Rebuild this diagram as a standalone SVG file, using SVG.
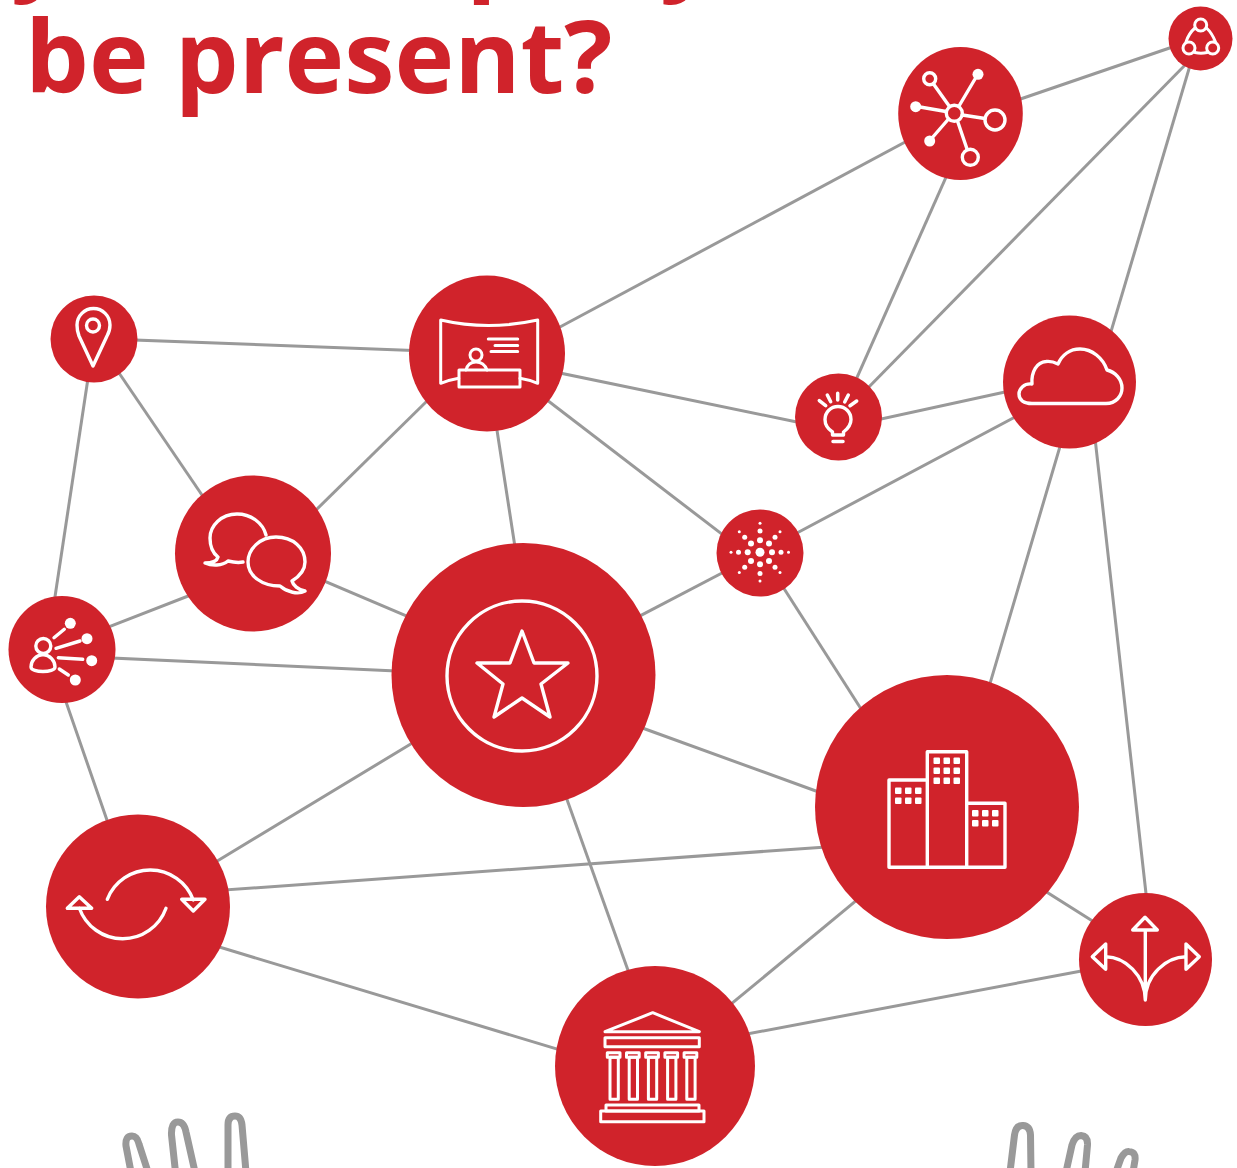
<svg xmlns="http://www.w3.org/2000/svg" width="1237" height="1168" viewBox="0 0 1237 1168">
<style>
.t{font-family:"Open Sans","Noto Sans",sans-serif;font-weight:700;font-size:101px;fill:#D0232B}
.n{fill:#D0232B}
.c line{stroke:#999;stroke-width:3;stroke-linecap:square}
.i{fill:none;stroke:#fff;stroke-width:3.4;stroke-linecap:round;stroke-linejoin:round}
.s{stroke-width:3}
.d{fill:#fff}
.h{fill:none;stroke:#999;stroke-width:7}
</style>
<rect width="1237" height="1168" fill="#fff"/>
<g id="title">
<text class="t" x="25" y="93">be present?</text>
<text class="t" x="11" y="-19.500">y</text>
<text class="t" x="466" y="-19.500">p</text>
<text class="t" x="660" y="-19.500">y</text>
</g>
<g id="connectors" class="c">
<line x1="1019" y1="99.500" x2="1174" y2="46.500"/>
<line x1="908" y1="140.500" x2="558" y2="328"/>
<line x1="947" y1="175" x2="855" y2="382"/>
<line x1="1188" y1="62" x2="866" y2="390"/>
<line x1="1191" y1="62" x2="1110" y2="335"/>
<line x1="135" y1="340" x2="412" y2="350.500"/>
<line x1="560" y1="373" x2="799" y2="422.500"/>
<line x1="879" y1="419.500" x2="1007" y2="391.500"/>
<line x1="429" y1="399" x2="314" y2="512"/>
<line x1="496.500" y1="427" x2="515" y2="547"/>
<line x1="545" y1="398.500" x2="725" y2="536.500"/>
<line x1="1017" y1="416" x2="795" y2="534"/>
<line x1="724" y1="572" x2="638" y2="617"/>
<line x1="783" y1="587" x2="863" y2="712"/>
<line x1="1061" y1="443" x2="989" y2="687"/>
<line x1="1095" y1="438" x2="1146.500" y2="898"/>
<line x1="117" y1="370" x2="204" y2="498"/>
<line x1="88.500" y1="375" x2="54.500" y2="600"/>
<line x1="192" y1="594.500" x2="107" y2="627.500"/>
<line x1="324" y1="581" x2="409" y2="617"/>
<line x1="112" y1="658" x2="395" y2="671"/>
<line x1="65" y1="699" x2="108" y2="823"/>
<line x1="414" y1="742" x2="214" y2="863"/>
<line x1="641" y1="727.500" x2="820" y2="792.500"/>
<line x1="565" y1="794" x2="629" y2="973"/>
<line x1="225" y1="890" x2="825" y2="847"/>
<line x1="216" y1="946" x2="560" y2="1050"/>
<line x1="730" y1="1005" x2="858" y2="899"/>
<line x1="747" y1="1034" x2="1084" y2="970.500"/>
<line x1="1045" y1="891" x2="1094" y2="922"/>
</g>
<g id="hand-left" class="h">
<path d="M131 1172L126 1146Q125 1136 132 1136Q137 1136 139 1144L148 1172"/>
<path d="M175.500 1172L171.500 1135Q171 1122 178 1122Q184 1122 186 1132L195 1172"/>
<path d="M228 1172L228 1125Q228 1116 235 1116Q241 1116 242 1125L246 1172"/>
</g>
<g id="hand-right" class="h">
<path d="M1010 1172L1014.500 1135Q1016 1125 1023 1125.500Q1030 1126 1030.500 1135L1031 1172"/>
<path d="M1066 1172L1072 1145Q1075 1135.500 1081 1135.500Q1088 1136 1087.500 1145L1085 1172"/>
<path d="M1116 1172L1121 1158Q1125 1151 1129 1151.500Q1136 1152 1135 1160L1133 1172"/>
</g>
<g id="network">
<ellipse class="n" cx="960.500" cy="113.500" rx="62.300" ry="66.500"/>
<g class="i">
<circle cx="954.300" cy="113.300" r="8"/><circle cx="929.700" cy="78.700" r="6"/><circle cx="995" cy="120" r="10"/><circle cx="970.300" cy="157.300" r="8"/>
<path d="M933.500 84L949.500 106.500M959 106L975 79M946 111.500L920 107M962.300 115L985 118.500M948.500 119L932 138M957.500 121L967 149"/>
</g>
<circle class="d" cx="978" cy="74.300" r="5.500"/><circle class="d" cx="915.700" cy="106.700" r="5.500"/><circle class="d" cx="929.700" cy="141" r="5.500"/>
</g>
<g id="triad">
<circle class="n" cx="1200.500" cy="38.500" r="32"/>
<g class="i s">
<circle cx="1200.700" cy="25" r="6"/><circle cx="1189" cy="48" r="6"/><circle cx="1212.700" cy="48" r="6"/>
<path d="M1195 28Q1189 33 1186 42M1206.500 28Q1212 33 1215.500 42M1195 52.500Q1201 54 1207 52.500"/>
</g>
</g>
<g id="presenter">
<circle class="n" cx="487" cy="353.500" r="78"/>
<g class="i s">
<path d="M458.700 378.300Q449 380 440.700 383.300L440.700 320Q488 331 537.700 320L537.700 383.300Q530 380 520 378.300"/>
<rect x="459" y="370" width="61" height="17"/>
<circle cx="476" cy="355" r="6"/>
<path d="M466 370Q468 362 476 362Q484 362 487 370M488.300 339L517.700 339M495 345.500L517.700 345.500M491 351.500L517.700 351.500"/>
</g>
</g>
<g id="pin">
<circle class="n" cx="94" cy="339" r="43.500"/>
<g class="i">
<path d="M93 366L79 336Q77 331 77 325A16.500 16.500 0 0 1 110 325Q110 331 107 336Z"/>
<circle cx="93" cy="325.500" r="6.500"/>
</g>
</g>
<g id="bulb">
<circle class="n" cx="838.500" cy="417" r="43.500"/>
<g class="i">
<path d="M832.500 435L832.500 432C828 429 825 425 825 419.500A13 13 0 0 1 851 419.500C851 425 847.500 429 843.500 432L843.500 435Z"/>
<path stroke-width="3.500" d="M833 441.500L843 441.500M837.700 393.300L837.700 400M827.300 395L830.700 401.700M819.300 400.700L825.700 405.700M848.300 395L844.700 402M856.700 401L850 405.700"/>
</g>
</g>
<g id="cloud">
<circle class="n" cx="1069.500" cy="382" r="66.500"/>
<path class="i" d="M1032 403.500L1106 403.500C1116 403.500 1122 396 1122 388C1122 379 1115 372 1107 370C1103 358 1092 349 1080 349C1070 349 1062 355 1058 364C1054 362 1050 361 1046 361.500C1037 362 1031 372 1032 384C1024 383 1019 389 1019 394C1019 400 1024 403.500 1032 403.500Z"/>
</g>
<g id="spark">
<circle class="n" cx="760" cy="553" r="43.500"/>
<g class="d">
<circle cx="760" cy="552.300" r="4.500"/>
<circle cx="747.700" cy="552.300" r="3"/><circle cx="772" cy="552.300" r="3"/><circle cx="760" cy="540.300" r="3"/><circle cx="760" cy="564.300" r="3"/>
<circle cx="751" cy="543.500" r="3"/><circle cx="769" cy="543.500" r="3"/><circle cx="751" cy="561" r="3"/><circle cx="769" cy="561" r="3"/>
<circle cx="738.500" cy="552.300" r="2.500"/><circle cx="781" cy="552.300" r="2.500"/><circle cx="760" cy="531" r="2.500"/><circle cx="760" cy="573.500" r="2.500"/>
<circle cx="744.700" cy="537.300" r="2.500"/><circle cx="775" cy="537.300" r="2.500"/><circle cx="744.700" cy="567.300" r="2.500"/><circle cx="775" cy="567.300" r="2.500"/>
<circle cx="731" cy="552.300" r="1.500"/><circle cx="788.500" cy="552.300" r="1.500"/><circle cx="760" cy="523.300" r="1.500"/><circle cx="760" cy="581" r="1.500"/>
<circle cx="739.300" cy="531.700" r="1.500"/><circle cx="780" cy="531.700" r="1.500"/><circle cx="739.300" cy="572.500" r="1.500"/><circle cx="780" cy="572.500" r="1.500"/>
</g>
</g>
<g id="chat">
<circle class="n" cx="253" cy="553.500" r="78"/>
<g class="i">
<path d="M266 535C263 523 251 514 237 514C221 514 210 526 210 538C210 548 214 554 218 557C217 561 212 563 205 563C212 566 222 566 228 561C232 562 238 563 243 562"/>
<path d="M280 586C287 592 298 595 305 591C298 590 293 585 292 581C300 576 305 570 305 562C305 548 293 537 276 537C260 537 248 549 248 562C248 576 262 586 280 586Z"/>
</g>
</g>
<g id="people">
<circle class="n" cx="62" cy="649.500" r="53.500"/>
<circle class="d" cx="70.300" cy="623.300" r="5.500"/><circle class="d" cx="87" cy="638.700" r="5.500"/><circle class="d" cx="91.700" cy="660.700" r="5.500"/><circle class="d" cx="75.300" cy="680" r="5.500"/>
<g class="i">
<path d="M54 637.700L64.300 629.300M56 648.300L80 641M58.300 657.700L82.700 659.300M59.300 669L68.300 675"/>
<circle cx="43.300" cy="646" r="7.500"/>
<path d="M43 654.500C36 655 31 661 31 667C31 670 37 671.500 43 671.500C49 671.500 55 670 55 667C55 661 50 655 43 654.500Z"/>
</g>
</g>
<g id="star">
<circle class="n" cx="523.500" cy="675" r="132"/>
<g class="i">
<circle cx="522" cy="676" r="75"/>
<path d="M522 631L534 663L568 663L541 684L550 717L522 698L494 717L503 684L477 663L510 663Z"/>
</g>
</g>
<g id="buildings">
<circle class="n" cx="947" cy="807" r="132"/>
<g class="i">
<path d="M927.300 780L889 780L889 867.300L1005 867.300L1005 803.300L966.700 803.300M927.300 867.300L927.300 751.700L966.700 751.700L966.700 867.300"/>
</g>
<g class="d">
<rect x="895" y="787.500" width="6.500" height="6.500" rx="1"/><rect x="905" y="787.500" width="6.500" height="6.500" rx="1"/><rect x="915" y="787.500" width="6.500" height="6.500" rx="1"/>
<rect x="895" y="797.500" width="6.500" height="6.500" rx="1"/><rect x="905" y="797.500" width="6.500" height="6.500" rx="1"/><rect x="915" y="797.500" width="6.500" height="6.500" rx="1"/>
<rect x="933.500" y="757.500" width="6.500" height="6.500" rx="1"/><rect x="943.500" y="757.500" width="6.500" height="6.500" rx="1"/><rect x="953.500" y="757.500" width="6.500" height="6.500" rx="1"/>
<rect x="933.500" y="767.500" width="6.500" height="6.500" rx="1"/><rect x="943.500" y="767.500" width="6.500" height="6.500" rx="1"/><rect x="953.500" y="767.500" width="6.500" height="6.500" rx="1"/>
<rect x="933.500" y="777.500" width="6.500" height="6.500" rx="1"/><rect x="943.500" y="777.500" width="6.500" height="6.500" rx="1"/><rect x="953.500" y="777.500" width="6.500" height="6.500" rx="1"/>
<rect x="972" y="810" width="6.500" height="6.500" rx="1"/><rect x="982" y="810" width="6.500" height="6.500" rx="1"/><rect x="992" y="810" width="6.500" height="6.500" rx="1"/>
<rect x="972" y="820" width="6.500" height="6.500" rx="1"/><rect x="982" y="820" width="6.500" height="6.500" rx="1"/><rect x="992" y="820" width="6.500" height="6.500" rx="1"/>
</g>
</g>
<g id="cycle">
<circle class="n" cx="138" cy="906.500" r="92"/>
<g class="i">
<path d="M107.300 899.300A46 46 0 0 1 193.300 900M181.700 899.300L205 899.300L193.300 911ZM166 908.300A46 46 0 0 1 79.300 908M67.300 908.300L91.700 908.300L79.300 896.700Z"/>
</g>
</g>
<g id="temple">
<circle class="n" cx="655" cy="1066" r="100"/>
<g class="i s">
<path d="M605 1031.700L652.700 1012.700L699.300 1031.700Z"/>
<rect x="605" y="1037.700" width="94.300" height="9"/>
<rect x="607.300" y="1052.700" width="12.700" height="4.600"/><rect x="610" y="1057.300" width="8.300" height="42"/>
<rect x="626.500" y="1052.700" width="12.700" height="4.600"/><rect x="629.200" y="1057.300" width="8.300" height="42"/>
<rect x="645.700" y="1052.700" width="12.700" height="4.600"/><rect x="648.400" y="1057.300" width="8.300" height="42"/>
<rect x="664.900" y="1052.700" width="12.700" height="4.600"/><rect x="667.600" y="1057.300" width="8.300" height="42"/>
<rect x="684.100" y="1052.700" width="12.700" height="4.600"/><rect x="686.800" y="1057.300" width="8.300" height="42"/>
<rect x="606" y="1105" width="93" height="6"/>
<rect x="600.700" y="1111" width="103.300" height="10.700"/>
</g>
</g>
<g id="arrows">
<circle class="n" cx="1145.500" cy="959.500" r="66.500"/>
<g class="i">
<path d="M1145.300 931.700L1145.300 1000M1132.700 930L1157.300 930L1145 917.300ZM1105.700 944L1105.700 969.300L1092.300 956.700ZM1186 944L1186 969.300L1199.300 956.700ZM1105.700 956.700C1125 957 1145 975 1145.300 1000C1145.500 975 1166 957 1186 956.700"/>
</g>
</g>
</svg>
